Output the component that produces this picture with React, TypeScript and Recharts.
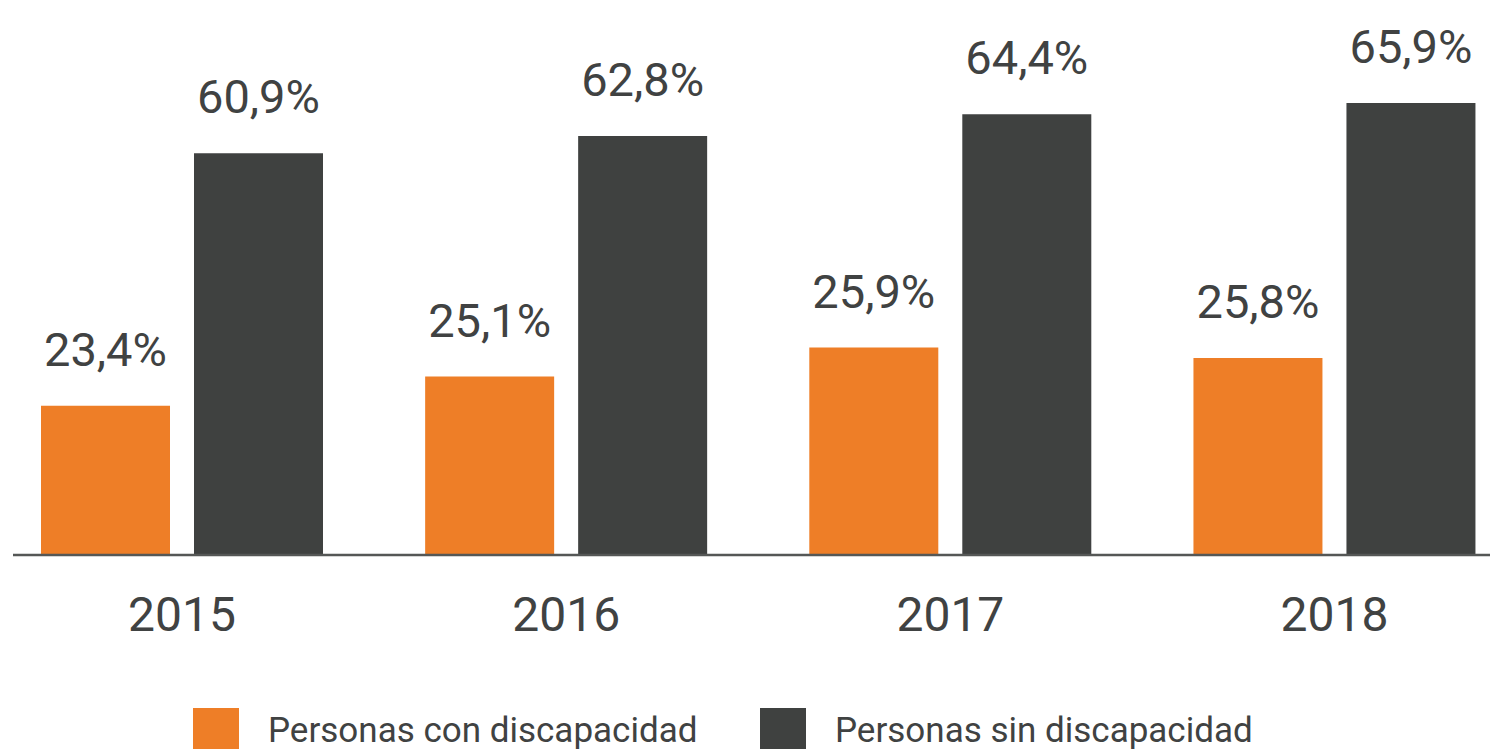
import React from "react";
import { BarChart, Bar, XAxis, YAxis, LabelList, Legend } from "recharts";

// Categories
const years = ["2015", "2016", "2017", "2018"];
// Printed values (labels above the bars)
const conDiscapacidad = [23.4, 25.1, 25.9, 25.8];
const sinDiscapacidad = [60.9, 62.8, 64.4, 65.9];
// Bar lengths as drawn in the source picture (same % scale, measured off the bars)
const conDiscapacidadBar = [22.6, 27.0, 31.4, 29.8];
const sinDiscapacidadBar = [60.8, 63.4, 66.7, 68.4];
// Series names
const seriesNames = ["Personas con discapacidad", "Personas sin discapacidad"];

const ORANGE = "#EE7E27";
const DARK = "#3F4140";
const TEXT = "#404242";
const FONT = "Roboto, 'DejaVu Sans', sans-serif";

const data = years.map((y, i) => ({
  year: y,
  con: conDiscapacidadBar[i],
  sin: sinDiscapacidadBar[i],
  conLabel: conDiscapacidad[i],
  sinLabel: sinDiscapacidad[i],
}));

const fmt = (v: number) => v.toFixed(1).replace(".", ",") + "%";

const makeLabel = (key: "conLabel" | "sinLabel") => (props: any) => {
  const { x, y, width, index } = props;
  const v = data[index][key];
  return (
    <text
      x={Number(x) + Number(width) / 2}
      y={Number(y) - 40}
      textAnchor="middle"
      fontFamily={FONT}
      fontSize={47}
      fill={TEXT}
    >
      {fmt(v)}
    </text>
  );
};

const YearTick = (props: any) => {
  const { x, y, payload } = props;
  return (
    <text
      x={x}
      y={Number(y) + 76}
      textAnchor="middle"
      fontFamily={FONT}
      fontSize={48}
      fill={TEXT}
    >
      {payload.value}
    </text>
  );
};

const LegendContent = (props: any) => {
  const { payload } = props;
  return (
    <div style={{ display: "flex", height: 46, alignItems: "center" }}>
      {(payload || []).map((p: any, i: number) => (
        <div
          key={i}
          style={{
            display: "flex",
            alignItems: "center",
            width: i === 0 ? 567 : 520,
            height: 46,
          }}
        >
          <div style={{ width: 46, height: 46, background: p.color, flex: "none" }} />
          <span
            style={{
              marginLeft: 29,
              fontFamily: FONT,
              fontSize: 35,
              lineHeight: "46px",
              color: TEXT,
              whiteSpace: "nowrap",
            }}
          >
            {p.value}
          </span>
        </div>
      ))}
    </div>
  );
};

export default function App() {
  return (
    <div style={{ marginLeft: 5, width: 1485, height: 741, position: "relative" }}>
      <BarChart
        width={1485}
        height={741}
        data={data}
        margin={{ top: 84.5, right: 0, left: 0, bottom: 118 }}
        barGap={24}
        barSize={129}
      >
        <XAxis
          dataKey="year"
          tick={<YearTick />}
          tickLine={false}
          tickSize={0}
          tickMargin={0}
          axisLine={{ stroke: "#555756", strokeWidth: 2.5 }}
          padding={{ left: -23, right: -28.6 }}
          interval={0}
        />
        <YAxis hide domain={[0, 70]} />
        <Legend
          content={<LegendContent />}
          wrapperStyle={{ position: "absolute", left: 180, top: 700, width: 1200, height: 46 }}
        />
        <Bar dataKey="con" name={seriesNames[0]} fill={ORANGE} isAnimationActive={false}>
          <LabelList dataKey="con" content={makeLabel("conLabel")} />
        </Bar>
        <Bar dataKey="sin" name={seriesNames[1]} fill={DARK} isAnimationActive={false}>
          <LabelList dataKey="sin" content={makeLabel("sinLabel")} />
        </Bar>
      </BarChart>
    </div>
  );
}
